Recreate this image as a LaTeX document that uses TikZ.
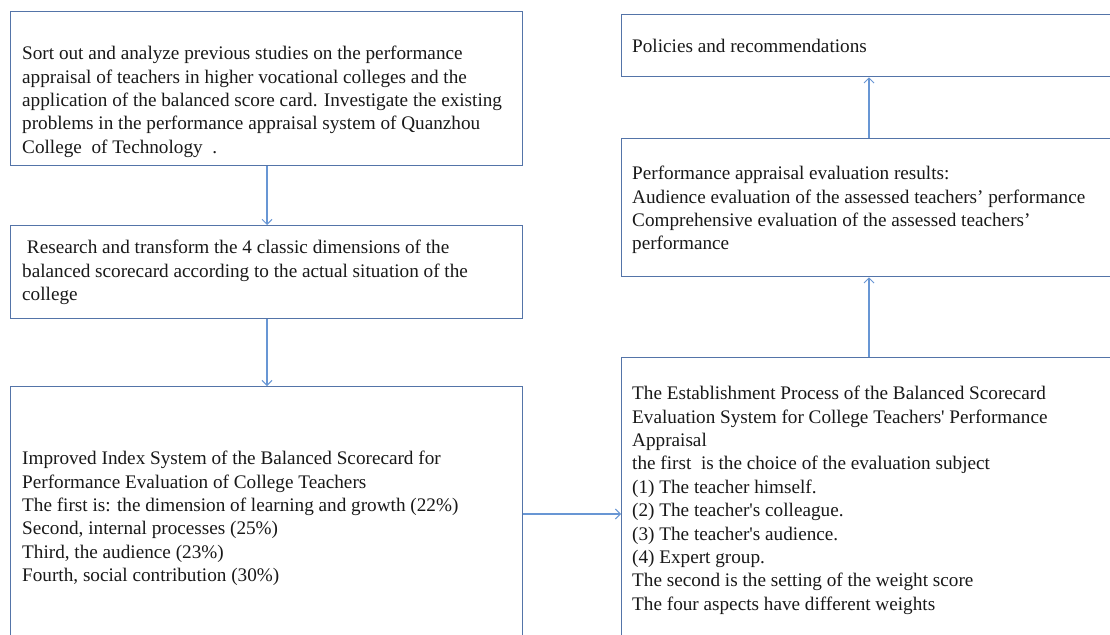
\documentclass[tikz,border=0pt]{standalone}
\usepackage{fontspec}
\setmainfont{Liberation Serif}
\usetikzlibrary{arrows.meta,positioning}

\definecolor{boxline}{RGB}{84,116,168}
\definecolor{arrowline}{RGB}{104,150,212}

\tikzset{
  stagebox/.style={draw=boxline, line width=1.3pt, fill=white, rectangle,
    inner sep=0pt, anchor=north west},
  stagetext/.style={anchor=north west, inner sep=0pt, align=left,
    font=\fontsize{19.2}{23.4}\selectfont, text=black!90},
  flow/.style={draw=arrowline, line width=1.1pt,
    -{Straight Barb[length=5pt,width=10pt,line width=1pt]}},
}

\begin{document}
\begin{tikzpicture}[x=1pt,y=-1pt]
\useasboundingbox (0,0) rectangle (1110,634);
\fill[white] (0,0) rectangle (1110,634);
\clip (0,0) rectangle (1110,634);

% left column
\node[stagebox, minimum width=512pt, minimum height=154pt] (boxA) at (10,11) {};
\node[stagebox, minimum width=512pt, minimum height=93pt]  (boxB) at (10,225) {};
\node[stagebox, minimum width=512pt, minimum height=270pt] (boxC) at (10,386) {};

% right column
\node[stagebox, minimum width=500pt, minimum height=62pt]  (boxD) at (621,14) {};
\node[stagebox, minimum width=500pt, minimum height=138pt] (boxE) at (621,138) {};
\node[stagebox, minimum width=500pt, minimum height=300pt] (boxF) at (621,357) {};

% texts (each starts with a strut, so the top sits 16.4pt above the first baseline)
\node[stagetext] (tA) at (22,43.1) {\strut Sort out and analyze previous studies on the performance\\
appraisal of teachers in higher vocational colleges and the\\
application of the balanced score card. Investigate the existing\\
problems in the performance appraisal system of Quanzhou\\
College\ \ of Technology\ \ .};

\node[stagetext] (tB) at (22,237.1) {\strut\ Research and transform the 4 classic dimensions of the\\
balanced scorecard according to the actual situation of the\\
college};

\node[stagetext] (tC) at (22,448.1) {\strut Improved Index System of the Balanced Scorecard for\\
Performance Evaluation of College Teachers\\
The first is: the dimension of learning and growth (22\%)\\
Second, internal processes (25\%)\\
Third, the audience (23\%)\\
Fourth, social contribution (30\%)};

\node[stagetext] (tD) at (632,35.6) {\strut Policies and recommendations};

\node[stagetext] (tE) at (632,163.1) {\strut Performance appraisal evaluation results:\\
Audience evaluation of the assessed teachers’ performance\\
Comprehensive evaluation of the assessed teachers’\\
performance};

\node[stagetext] (tF) at (632,383.1) {\strut The Establishment Process of the Balanced Scorecard\\
Evaluation System for College Teachers\textquotesingle\ Performance\\
Appraisal\\
the first\ \ is the choice of the evaluation subject\\
(1) The teacher himself.\\
(2) The teacher\textquotesingle s colleague.\\
(3) The teacher\textquotesingle s audience.\\
(4) Expert group.\\
The second is the setting of the weight score\\
The four aspects have different weights};

% connectors
\draw[flow] (boxA.south -| 267,0) -- (boxB.north -| 267,0);
\draw[flow] (boxB.south -| 267,0) -- (boxC.north -| 267,0);
\draw[flow] (boxC.east |- 0,514) -- (boxF.west |- 0,514);
\draw[flow] (boxF.north -| 869,0) -- (boxE.south -| 869,0);
\draw[flow] (boxE.north -| 869,0) -- (boxD.south -| 869,0);
\end{tikzpicture}
\end{document}
